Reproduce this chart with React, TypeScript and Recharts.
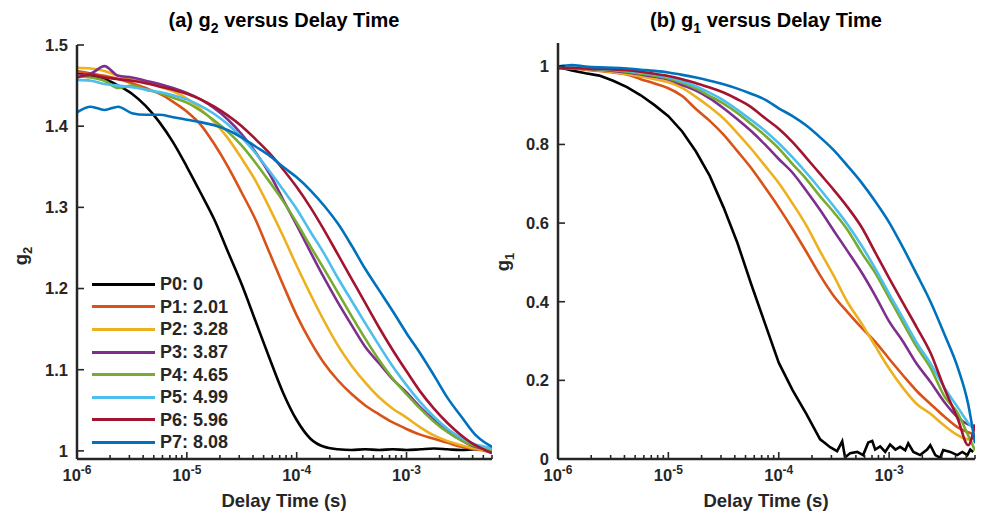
import React from 'react';
import { LineChart, Line, XAxis, YAxis } from 'recharts';

// delay times (s), 8 points per decade plus the two last lags
const tau = [
  1e-6, 1.334e-6, 1.778e-6, 2.371e-6, 3.162e-6, 4.217e-6, 5.623e-6, 7.499e-6,
  1e-5, 1.334e-5, 1.778e-5, 2.371e-5, 3.162e-5, 4.217e-5, 5.623e-5, 7.499e-5,
  1e-4, 1.334e-4, 1.778e-4, 2.371e-4, 3.162e-4, 4.217e-4, 5.623e-4, 7.499e-4,
  1e-3, 1.334e-3, 1.778e-3, 2.371e-3, 3.162e-3, 4.217e-3, 5.2e-3, 6e-3,
];

// (a) g2
const p0g2 = [1.465, 1.462, 1.458, 1.45, 1.44, 1.425, 1.405, 1.38, 1.35, 1.318, 1.285, 1.245, 1.205, 1.16, 1.115, 1.072, 1.038, 1.015, 1.005, 1.002, 1.001, 1.002, 1.001, 1.002, 1.001, 1.002, 1.003, 1.002, 1.001, 1.002, 1.001, 1.0];
const p1g2 = [1.468, 1.465, 1.462, 1.458, 1.453, 1.447, 1.44, 1.43, 1.418, 1.402, 1.378, 1.35, 1.318, 1.285, 1.245, 1.205, 1.167, 1.135, 1.108, 1.087, 1.07, 1.056, 1.045, 1.035, 1.027, 1.02, 1.015, 1.01, 1.005, 1.002, 1.0, 0.998];
const p2g2 = [1.472, 1.471, 1.468, 1.462, 1.458, 1.454, 1.449, 1.443, 1.434, 1.421, 1.405, 1.385, 1.36, 1.333, 1.3, 1.265, 1.228, 1.193, 1.16, 1.13, 1.105, 1.084, 1.066, 1.052, 1.041, 1.029, 1.019, 1.012, 1.007, 1.003, 1.001, 0.999];
const p3g2 = [1.463, 1.465, 1.474, 1.462, 1.46, 1.456, 1.452, 1.447, 1.441, 1.433, 1.422, 1.408, 1.39, 1.368, 1.342, 1.31, 1.278, 1.245, 1.213, 1.183, 1.155, 1.128, 1.108, 1.088, 1.072, 1.054, 1.038, 1.024, 1.013, 1.005, 1.002, 1.0];
const p4g2 = [1.462, 1.46, 1.456, 1.447, 1.45, 1.445, 1.441, 1.435, 1.429, 1.419, 1.407, 1.393, 1.376, 1.355, 1.332, 1.308, 1.281, 1.252, 1.224, 1.195, 1.166, 1.138, 1.112, 1.089, 1.07, 1.052, 1.036, 1.023, 1.013, 1.006, 1.003, 1.001];
const p5g2 = [1.457, 1.456, 1.452, 1.45, 1.448, 1.445, 1.442, 1.438, 1.433, 1.425, 1.415, 1.402, 1.386, 1.367, 1.345, 1.322, 1.298, 1.27, 1.243, 1.213, 1.185, 1.157, 1.13, 1.104, 1.081, 1.06, 1.042, 1.027, 1.016, 1.008, 1.005, 1.003];
const p6g2 = [1.46, 1.463, 1.46, 1.458, 1.456, 1.453, 1.449, 1.445, 1.44, 1.433, 1.424, 1.413, 1.4, 1.384, 1.367, 1.347, 1.325, 1.3, 1.272, 1.242, 1.212, 1.182, 1.152, 1.124, 1.098, 1.073, 1.052, 1.034, 1.019, 1.007, 1.001, 0.997];
const p7g2 = [1.417, 1.424, 1.42, 1.424, 1.416, 1.414, 1.414, 1.411, 1.408, 1.405, 1.401, 1.395, 1.386, 1.375, 1.364, 1.35, 1.337, 1.321, 1.302, 1.28, 1.253, 1.224, 1.198, 1.172, 1.145, 1.12, 1.093, 1.065, 1.042, 1.02, 1.01, 1.005];

// (b) g1 — P0 has its own, denser lag list for the noisy tail
const tauP0g1 = [
  1e-6, 1.334e-6, 1.778e-6, 2.371e-6, 3.162e-6, 4.217e-6, 5.623e-6, 7.499e-6,
  1e-5, 1.334e-5, 1.778e-5, 2.371e-5, 3.162e-5, 4.217e-5, 5.623e-5, 7.499e-5,
  1e-4, 1.334e-4, 1.778e-4, 2.371e-4, 2.69e-4, 2.92e-4, 3.38e-4, 3.76e-4,
  3.99e-4, 4.44e-4, 5.14e-4, 5.82e-4, 6.47e-4, 7.03e-4, 7.48e-4, 8.3e-4,
  9.22e-4, 1.02e-3, 1.14e-3, 1.26e-3, 1.4e-3, 1.49e-3, 1.66e-3, 1.91e-3,
  2.21e-3, 2.36e-3, 2.62e-3, 2.9e-3, 3.09e-3, 3.58e-3, 4.14e-3, 4.6e-3,
  5.11e-3, 5.44e-3, 5.78e-3,
];
const p0g1 = [
  0.997, 0.988, 0.981, 0.975, 0.962, 0.946, 0.925, 0.9, 0.872, 0.833, 0.782, 0.72, 0.64, 0.55, 0.445, 0.345,
  0.245, 0.175, 0.115, 0.05, 0.038, 0.03, 0.02, 0.045, 0.004, 0.015, 0.018, 0.01, 0.042, 0.046, 0.024, 0.032,
  0.018, 0.037, 0.024, 0.031, 0.022, 0.04, 0.018, 0.01, 0.024, 0.035, 0.01, 0.003, 0.023, 0.018, 0.01, 0.018,
  0.01, 0.024, 0.018,
];
const p1g1 = [0.995, 0.993, 0.99, 0.987, 0.983, 0.978, 0.966, 0.955, 0.943, 0.923, 0.89, 0.86, 0.825, 0.783, 0.74, 0.691, 0.64, 0.585, 0.527, 0.467, 0.414, 0.373, 0.334, 0.298, 0.255, 0.213, 0.173, 0.14, 0.108, 0.08, 0.068, 0.062];
const p2g1 = [0.996, 0.994, 0.991, 0.988, 0.984, 0.979, 0.973, 0.966, 0.958, 0.944, 0.921, 0.895, 0.866, 0.829, 0.789, 0.746, 0.702, 0.65, 0.594, 0.528, 0.465, 0.398, 0.345, 0.287, 0.23, 0.181, 0.14, 0.115, 0.085, 0.06, 0.05, 0.055];
const p3g1 = [0.995, 0.994, 0.992, 0.99, 0.987, 0.983, 0.978, 0.972, 0.965, 0.951, 0.937, 0.917, 0.892, 0.864, 0.834, 0.8, 0.763, 0.728, 0.682, 0.633, 0.58, 0.528, 0.475, 0.415, 0.35, 0.299, 0.242, 0.196, 0.145, 0.105, 0.088, 0.083];
const p4g1 = [0.997, 0.995, 0.993, 0.991, 0.989, 0.985, 0.98, 0.975, 0.968, 0.957, 0.942, 0.923, 0.904, 0.88, 0.852, 0.823, 0.79, 0.75, 0.712, 0.668, 0.627, 0.582, 0.525, 0.473, 0.41, 0.347, 0.285, 0.232, 0.16, 0.115, 0.06, 0.022];
const p5g1 = [0.996, 0.995, 0.994, 0.992, 0.99, 0.987, 0.983, 0.978, 0.971, 0.961, 0.948, 0.931, 0.912, 0.888, 0.862, 0.835, 0.803, 0.767, 0.728, 0.686, 0.642, 0.596, 0.543, 0.484, 0.42, 0.358, 0.296, 0.243, 0.182, 0.13, 0.092, 0.072];
const p6g1 = [0.993, 0.995, 0.993, 0.992, 0.991, 0.989, 0.985, 0.98, 0.974, 0.966, 0.956, 0.945, 0.932, 0.915, 0.895, 0.867, 0.84, 0.806, 0.766, 0.725, 0.684, 0.64, 0.59, 0.525, 0.46, 0.397, 0.335, 0.27, 0.18, 0.1, 0.035, 0.088];
const p7g1 = [0.998, 1.002, 0.998, 0.996, 0.995, 0.993, 0.99, 0.987, 0.983, 0.977, 0.97, 0.962, 0.953, 0.942, 0.929, 0.914, 0.892, 0.872, 0.848, 0.818, 0.785, 0.745, 0.703, 0.655, 0.602, 0.538, 0.47, 0.4, 0.318, 0.23, 0.14, 0.04];

const names = ['P0: 0', 'P1: 2.01', 'P2: 3.28', 'P3: 3.87', 'P4: 4.65', 'P5: 4.99', 'P6: 5.96', 'P7: 8.08'];
const colors = ['#000000', '#D95319', '#EDB120', '#7E2F8E', '#77AC30', '#4DBEEE', '#A2142F', '#0072BD'];

const decades = [1e-6, 1e-5, 1e-4, 1e-3];
const mantissas = [1, 2, 3, 4, 5, 6, 7, 8, 9];
const xTicks = decades.flatMap((d) => mantissas.map((m) => m * d)).filter((t) => t <= 6e-3);
const g2Ticks = [1, 1.1, 1.2, 1.3, 1.4, 1.5];
const g1Ticks = [0, 0.2, 0.4, 0.6, 0.8, 1];

const AXIS = '#262626';
const FONT = '"Liberation Sans", Arial, Helvetica, sans-serif';

const rows = (xs: number[], ys: number[]) => xs.map((t, i) => ({ t, v: ys[i] }));

const g2Series = [p0g2, p1g2, p2g2, p3g2, p4g2, p5g2, p6g2, p7g2].map((ys) => rows(tau, ys));
const g1Series = [
  rows(tauP0g1, p0g1),
  ...[p1g1, p2g1, p3g1, p4g1, p5g1, p6g1, p7g1].map((ys) => rows(tau, ys)),
];

const XTick = (props: any) => {
  const { x, y, payload } = props;
  const lg = Math.log10(payload.value);
  const exp = Math.round(lg);
  const major = Math.abs(lg - exp) < 1e-6;
  return (
    <g>
      <line x1={x} y1={y} x2={x} y2={y - (major ? 7 : 4)} stroke={AXIS} strokeWidth={1.6} />
      {major && (
        <text x={x} y={y + 22} textAnchor="middle" fill={AXIS} fontFamily={FONT} fontWeight="bold" fontSize={16.5}>
          <tspan>10</tspan>
          <tspan dy={-7} fontSize={12}>{exp}</tspan>
        </text>
      )}
    </g>
  );
};

const YTick = (props: any) => {
  const { x, y, payload } = props;
  return (
    <g>
      <line x1={x} y1={y} x2={x + 7} y2={y} stroke={AXIS} strokeWidth={1.6} />
      <text x={x - 9} y={y} dy="0.36em" textAnchor="end" fill={AXIS} fontFamily={FONT} fontWeight="bold" fontSize={16.5}>
        {String(payload.value)}
      </text>
    </g>
  );
};

function Panel({ series, domain, ticks, left, width, yAxisWidth, top, rightMargin }: any) {
  return (
    <div style={{ position: 'absolute', left, top: 0 }}>
      <LineChart width={width} height={519} margin={{ top, right: rightMargin, bottom: 30, left: 0 }}>
        <XAxis
          type="number"
          dataKey="t"
          scale="log"
          domain={[1e-6, 6e-3]}
          allowDataOverflow
          ticks={xTicks}
          interval={0}
          tick={<XTick />}
          tickLine={false}
          tickSize={0}
          tickMargin={0}
          height={30}
          axisLine={{ stroke: AXIS, strokeWidth: 2.5 }}
        />
        <YAxis
          type="number"
          domain={domain}
          allowDataOverflow
          ticks={ticks}
          interval={0}
          tick={<YTick />}
          tickLine={false}
          tickSize={0}
          tickMargin={0}
          width={yAxisWidth}
          axisLine={{ stroke: AXIS, strokeWidth: 2.5 }}
        />
        {series.map((d: any[], i: number) => (
          <Line
            key={names[i]}
            data={d}
            dataKey="v"
            name={names[i]}
            type={i === 0 && series === g1Series ? 'linear' : 'monotone'}
            stroke={colors[i]}
            strokeWidth={2.6}
            dot={false}
            isAnimationActive={false}
          />
        ))}
      </LineChart>
    </div>
  );
}

export default function App() {
  const txt = { fontFamily: FONT, fontWeight: 'bold' as const, fill: '#000' };
  return (
    <div style={{ position: 'absolute', left: 0, top: 0, width: 982, height: 519, background: '#fff', overflow: 'hidden' }}>
      <Panel series={g2Series} domain={[0.99, 1.5]} ticks={g2Ticks} left={0} width={500} yAxisWidth={77} top={45} rightMargin={8} />
      <Panel series={g1Series} domain={[0, 1.058]} ticks={g1Ticks} left={490} width={492} yAxisWidth={68} top={43} rightMargin={7} />

      <div style={{ position: 'absolute', left: 92, top: 273, fontFamily: FONT, fontWeight: 'bold', fontSize: 18, color: AXIS }}>
        {names.map((n, i) => (
          <div key={n} style={{ display: 'flex', alignItems: 'center', height: 22.6 }}>
            <div style={{ width: 63, height: 3, background: colors[i], marginRight: 5 }} />
            <span style={{ lineHeight: '22px' }}>{n}</span>
          </div>
        ))}
      </div>

      <svg width={982} height={519} style={{ position: 'absolute', left: 0, top: 0, pointerEvents: 'none' }}>
        <text x={284} y={27} textAnchor="middle" fontSize={20} {...txt}>
          (a) g<tspan dy={6} fontSize={14}>2</tspan>
          <tspan dy={-6}> versus Delay Time</tspan>
        </text>
        <text x={766} y={27} textAnchor="middle" fontSize={20} {...txt}>
          (b) g<tspan dy={6} fontSize={14}>1</tspan>
          <tspan dy={-6}> versus Delay Time</tspan>
        </text>
        <text x={284} y={507} textAnchor="middle" fontSize={18.5} {...txt} fill={AXIS}>Delay Time (s)</text>
        <text x={766} y={507} textAnchor="middle" fontSize={18.5} {...txt} fill={AXIS}>Delay Time (s)</text>
        <text transform="translate(27,256) rotate(-90)" textAnchor="middle" fontSize={18.5} {...txt} fill={AXIS}>
          g<tspan dy={5} fontSize={13}>2</tspan>
        </text>
        <text transform="translate(509,262) rotate(-90)" textAnchor="middle" fontSize={18.5} {...txt} fill={AXIS}>
          g<tspan dy={5} fontSize={13}>1</tspan>
        </text>
      </svg>
    </div>
  );
}
